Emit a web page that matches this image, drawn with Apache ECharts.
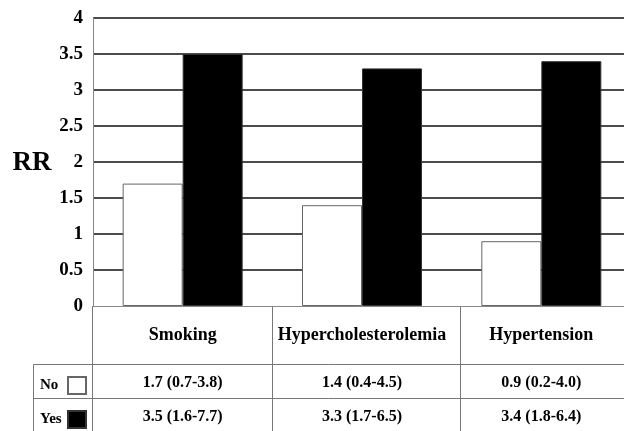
<!DOCTYPE html>
<html>
<head>
<meta charset="utf-8">
<script src="https://cdn.jsdelivr.net/npm/echarts@6/dist/echarts.min.js"></script>
<style>
html,body{margin:0;padding:0;background:#fff;}
#c{width:624px;height:431px;}
</style>
</head>
<body>
<div id="c"></div>
<script>
const categories = ['Smoking', 'Hypercholesterolemia', 'Hypertension'];
const seriesNames = ['No', 'Yes'];
const noValues = [1.7, 1.4, 0.9];
const yesValues = [3.5, 3.3, 3.4];
const noCI = ['0.7-3.8', '0.4-4.5', '0.2-4.0'];
const yesCI = ['1.6-7.7', '1.7-6.5', '1.8-6.4'];
const yTickLabels = ['0', '0.5', '1', '1.5', '2', '2.5', '3', '3.5', '4'];
const yAxisTitle = 'RR';

const FONT = "'Liberation Serif', 'Times New Roman', serif";
const chart = echarts.init(document.getElementById('c'), null, {renderer: 'canvas'});

function legendFor(name, top) {
  return {
    orient: 'horizontal',
    left: 40, top: top, padding: 0,
    itemWidth: 18, itemHeight: 17,
    align: 'right',
    icon: 'rect',
    data: [name],
    formatter: function (n) { return '{t|' + n + '}'; },
    textStyle: {
      fontFamily: FONT, fontWeight: 'bold', fontSize: 15, color: '#000',
      rich: {t: {fontFamily: FONT, fontWeight: 'bold', fontSize: 15, color: '#000', width: 23, align: 'left'}}
    },
    selectedMode: false
  };
}

const option = {
  animation: false,
  backgroundColor: '#fff',
  grid: {left: 93, top: 18, bottom: 125, right: -7, containLabel: false, outerBoundsMode: 'none'},
  legend: [legendFor(seriesNames[0], 376), legendFor(seriesNames[1], 410)],
  xAxis: {
    type: 'category',
    data: categories,
    axisLine: {show: true, lineStyle: {color: '#888', width: 1}},
    axisTick: {show: false},
    axisLabel: {fontFamily: FONT, fontWeight: 'bold', fontSize: 18, color: '#000', margin: 20, interval: 0}
  },
  yAxis: {
    type: 'value',
    min: 0, max: 4, interval: 0.5,
    axisLine: {show: true, lineStyle: {color: '#888', width: 1}},
    axisTick: {show: false},
    axisLabel: {
      fontFamily: FONT, fontWeight: 'bold', fontSize: 19, color: '#000', margin: 10,
      formatter: function (v) { return yTickLabels[Math.round(v / 0.5)]; }
    },
    splitLine: {show: true, showMinLine: false, lineStyle: {color: '#111', width: 1.5}}
  },
  series: [
    {
      name: seriesNames[0], type: 'bar', data: noValues,
      barWidth: 60, barGap: '0%',
      itemStyle: {color: '#fff', borderColor: '#666', borderWidth: 1}
    },
    {
      name: seriesNames[1], type: 'bar', data: yesValues,
      barWidth: 60, barGap: '0%',
      itemStyle: {color: '#000', borderColor: '#333', borderWidth: 1}
    }
  ]
};
chart.setOption(option);

// table built from the data arrays
const axisX = 92.5, axisBottom = 306;
const lineStyle = {stroke: '#777', lineWidth: 1};
const graphics = [];
function line(x1, y1, x2, y2) {
  graphics.push({type: 'line', shape: {x1: x1, y1: y1, x2: x2, y2: y2}, style: lineStyle, silent: true});
}
line(axisX, axisBottom, axisX, 431);
line(272.5, axisBottom, 272.5, 431);
line(460.5, axisBottom, 460.5, 431);
line(33.5, 364.5, 624, 364.5);
line(33.5, 398.5, 624, 398.5);
line(33.5, 364.5, 33.5, 431);

graphics.push({
  type: 'text', x: 32, y: 163,
  style: {text: yAxisTitle, font: 'bold 27px ' + FONT, fill: '#000', align: 'center', verticalAlign: 'middle'}
});

categories.forEach(function (c, i) {
  const px = chart.convertToPixel({xAxisIndex: 0}, c);
  graphics.push({
    type: 'text', x: px, y: 383,
    style: {text: noValues[i].toFixed(1) + ' (' + noCI[i] + ')', font: 'bold 16px ' + FONT, fill: '#000', align: 'center', verticalAlign: 'middle'}
  });
  graphics.push({
    type: 'text', x: px, y: 417,
    style: {text: yesValues[i].toFixed(1) + ' (' + yesCI[i] + ')', font: 'bold 16px ' + FONT, fill: '#000', align: 'center', verticalAlign: 'middle'}
  });
});
chart.setOption({graphic: {elements: graphics}});
</script>
</body>
</html>
